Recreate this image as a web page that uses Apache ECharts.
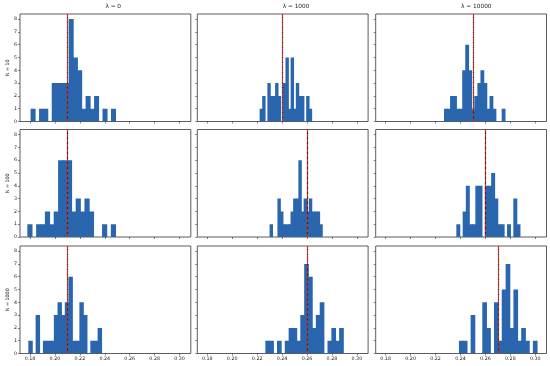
<!DOCTYPE html>
<html>
<head>
<meta charset="utf-8">
<script src="https://cdn.jsdelivr.net/npm/echarts@6/dist/echarts.min.js"></script>
<style>html,body{margin:0;padding:0;background:#fff}#c{width:550px;height:366px}</style>
</head>
<body>
<div id="c"></div>
<script>
// ---- data ----
const lambdas = ['λ = 0', 'λ = 1000', 'λ = 10000'];
const sizes = ['N = 10', 'N = 100', 'N = 1000'];
const xTicks = [0.18, 0.20, 0.22, 0.24, 0.26, 0.28, 0.30];
const yTicks = [0, 1, 2, 3, 4, 5, 6, 7, 8];

// per panel: [lo, hi] of histogram range, counts in 20 bins, dashed line position
const range_l0_n10 = [0.1808, 0.2487];
const counts_l0_n10 = [1,0,1,1,0,3,3,3,3,8,5,4,1,2,1,2,0,1,0,1];
const line_l0_n10 = 0.2138;
const range_l0_n100 = [0.1782, 0.2487];
const counts_l0_n100 = [1,0,1,1,2,1,2,6,6,6,2,3,2,3,2,0,0,1,0,1];
const line_l0_n100 = 0.2110;
const range_l0_n1000 = [0.1790, 0.2375];
const counts_l0_n1000 = [1,0,3,0,1,1,1,3,4,3,4,6,1,1,4,3,0,1,1,2];
const line_l0_n1000 = 0.2104;

const range_l1k_n10 = [0.2223, 0.2638];
const counts_l1k_n10 = [1,2,0,3,2,2,3,2,0,3,5,1,5,1,3,2,2,0,2,1];
const line_l1k_n10 = 0.2426;
const range_l1k_n100 = [0.2303, 0.2723];
const counts_l1k_n100 = [1,0,0,3,2,1,1,1,2,3,3,6,2,3,2,3,2,2,2,1];
const line_l1k_n100 = 0.2550;
const range_l1k_n1000 = [0.2269, 0.2892];
const counts_l1k_n1000 = [1,1,0,1,0,1,2,2,1,3,7,6,2,3,4,0,1,2,1,2];
const line_l1k_n1000 = 0.2615;

const range_l10k_n10 = [0.2271, 0.2758];
const counts_l10k_n10 = [1,1,2,2,1,1,4,6,4,1,2,3,4,3,1,2,1,0,0,1];
const line_l10k_n10 = 0.2498;
const range_l10k_n100 = [0.2370, 0.2878];
const counts_l10k_n100 = [1,0,2,4,1,1,4,4,0,4,4,5,3,1,1,0,1,0,3,1];
const line_l10k_n100 = 0.2611;
const range_l10k_n1000 = [0.2391, 0.3015];
const counts_l10k_n1000 = [1,1,0,3,0,0,4,2,0,4,1,5,7,2,5,1,2,1,0,1];
const line_l10k_n1000 = 0.2726;

// rows = N, cols = lambda
const panels = [
  [[range_l0_n10, counts_l0_n10, line_l0_n10], [range_l1k_n10, counts_l1k_n10, line_l1k_n10], [range_l10k_n10, counts_l10k_n10, line_l10k_n10]],
  [[range_l0_n100, counts_l0_n100, line_l0_n100], [range_l1k_n100, counts_l1k_n100, line_l1k_n100], [range_l10k_n100, counts_l10k_n100, line_l10k_n100]],
  [[range_l0_n1000, counts_l0_n1000, line_l0_n1000], [range_l1k_n1000, counts_l1k_n1000, line_l1k_n1000], [range_l10k_n1000, counts_l10k_n1000, line_l10k_n1000]]
];

// ---- layout ----
const colLeft = [20, 197.3, 375.7];
const gridW = 170.8;
const rowTop = [14, 129.5, 246];
const gridH = 107.5;
const xMin = 0.172, xMax = 0.309;
const yMin = 0, yMax = 8.4;
const barColor = '#2a66ae';
const frameColor = '#333';
const FONT = 'DejaVu Sans';

const chart = echarts.init(document.getElementById('c'), null, {renderer: 'canvas'});

const grids = [], xAxes = [], yAxes = [], series = [], graphics = [];
let gi = 0;
for (let r = 0; r < 3; r++) {
  for (let c = 0; c < 3; c++) {
    grids.push({left: colLeft[c], top: rowTop[r], width: gridW, height: gridH,
      show: true, borderColor: frameColor, borderWidth: 0.8, backgroundColor: '#fff', containLabel: false});
    xAxes.push({type: 'value', gridIndex: gi, min: xMin, max: xMax,
      splitLine: {show: false}, axisLine: {show: false},
      axisTick: {show: true, length: 2, customValues: xTicks, lineStyle: {color: frameColor, width: 0.6}},
      axisLabel: {show: r === 2, customValues: xTicks, formatter: v => v.toFixed(2),
        fontSize: 4.8, color: '#222', margin: 3, fontFamily: FONT}});
    yAxes.push({type: 'value', gridIndex: gi, min: yMin, max: yMax,
      splitLine: {show: false}, axisLine: {show: false},
      axisTick: {show: true, length: 2, customValues: yTicks, lineStyle: {color: frameColor, width: 0.6}},
      axisLabel: {show: c === 0, customValues: yTicks, fontSize: 4.8, color: '#222', margin: 3, fontFamily: FONT},
      name: c === 0 ? sizes[r] : '', nameLocation: 'middle', nameRotate: 90, nameGap: 10,
      nameTextStyle: {fontSize: 4.8, color: '#222', fontFamily: FONT}});
    const [rg, counts, lineX] = panels[r][c];
    const w = (rg[1] - rg[0]) / counts.length;
    const data = counts.map((n, i) => [rg[0] + i * w, rg[0] + (i + 1) * w, n]);
    series.push({type: 'custom', xAxisIndex: gi, yAxisIndex: gi, clip: true,
      encode: {x: [0, 1], y: 2},
      renderItem: function (params, api) {
        const n = api.value(2);
        if (!n) return null;
        const p0 = api.coord([api.value(0), n]);
        const p1 = api.coord([api.value(1), 0]);
        return {type: 'rect', shape: {x: p0[0] - 0.4, y: p0[1], width: p1[0] - p0[0] + 0.8, height: p1[1] - p0[1]},
          style: {fill: barColor}};
      },
      data: data,
      markLine: {silent: true, symbol: 'none', animation: false, label: {show: false},
        data: [
          {xAxis: lineX, lineStyle: {color: '#d62728', width: 1.2, type: [3, 2], dashOffset: 0}},
          {xAxis: lineX, lineStyle: {color: '#3a2a1a', width: 1.2, type: [2, 3], dashOffset: 2}}
        ]}
    });
    gi++;
  }
}
for (let c = 0; c < 3; c++) {
  graphics.push({type: 'text', left: colLeft[c] + gridW / 2, top: 3,
    style: {text: lambdas[c], fontSize: 5.8, fill: '#222', fontFamily: FONT, textAlign: 'center'}});
}

chart.setOption({
  animation: false,
  backgroundColor: '#fff',
  grid: grids, xAxis: xAxes, yAxis: yAxes, series: series,
  graphic: graphics
});
</script>
</body>
</html>
